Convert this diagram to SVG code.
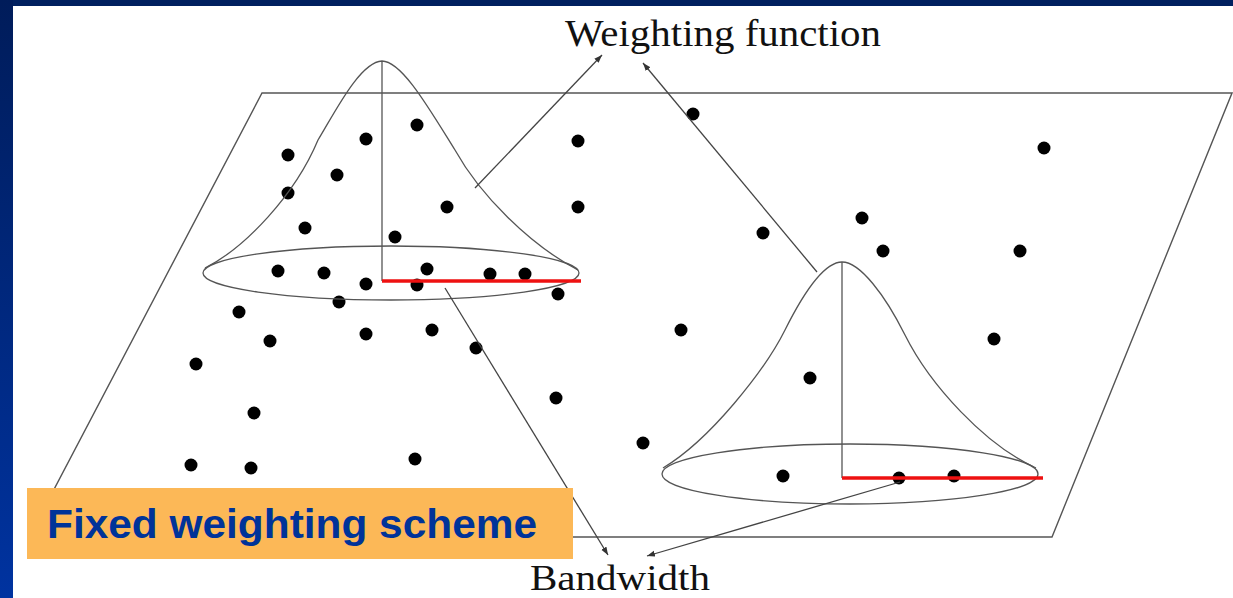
<svg xmlns="http://www.w3.org/2000/svg" width="1233" height="598" viewBox="0 0 1233 598">
<defs>
<linearGradient id="leftBand" x1="0" y1="0" x2="0" y2="1">
<stop offset="0" stop-color="#001c5a"/>
<stop offset="1" stop-color="#0033a0"/>
</linearGradient>
<marker id="arr" markerWidth="9" markerHeight="7" refX="8" refY="3" orient="auto" markerUnits="userSpaceOnUse">
<path d="M0,0 L8,3 L0,6 z" fill="#333"/>
</marker>
<style>
.ln{fill:none;stroke:#555;stroke-width:1.4}
.bell{fill:none;stroke:#555;stroke-width:1.3}
.red{stroke:#ee1111;stroke-width:3.5}
.con{fill:none;stroke:#444;stroke-width:1.3;marker-end:url(#arr)}
.dot{fill:#000}
.lbl{font-family:"Liberation Serif","Times New Roman",serif;fill:#111}
</style>
</defs>
<rect width="1233" height="598" fill="#ffffff"/>
<g id="frame">
<rect x="0" y="0" width="1233" height="6" fill="#00205f"/>
<rect x="0" y="0" width="13" height="598" fill="url(#leftBand)"/>
</g>
<g id="plane">
<path class="ln" d="M262,93 L1232,93 L1052,537 L29,537 Z"/>
</g>
<g id="points">
<circle class="dot" cx="288" cy="155" r="6.5"/>
<circle class="dot" cx="366" cy="139" r="6.5"/>
<circle class="dot" cx="417" cy="125" r="6.5"/>
<circle class="dot" cx="578" cy="141" r="6.5"/>
<circle class="dot" cx="693" cy="114" r="6.5"/>
<circle class="dot" cx="1044" cy="148" r="6.5"/>
<circle class="dot" cx="337" cy="175" r="6.5"/>
<circle class="dot" cx="288" cy="193" r="6.5"/>
<circle class="dot" cx="447" cy="207" r="6.5"/>
<circle class="dot" cx="578" cy="207" r="6.5"/>
<circle class="dot" cx="305" cy="228" r="6.5"/>
<circle class="dot" cx="395" cy="237" r="6.5"/>
<circle class="dot" cx="763" cy="233" r="6.5"/>
<circle class="dot" cx="862" cy="218" r="6.5"/>
<circle class="dot" cx="883" cy="251" r="6.5"/>
<circle class="dot" cx="1020" cy="251" r="6.5"/>
<circle class="dot" cx="278" cy="271" r="6.5"/>
<circle class="dot" cx="324" cy="273" r="6.5"/>
<circle class="dot" cx="366" cy="284" r="6.5"/>
<circle class="dot" cx="427" cy="269" r="6.5"/>
<circle class="dot" cx="417" cy="285" r="6.5"/>
<circle class="dot" cx="490" cy="274" r="6.5"/>
<circle class="dot" cx="525" cy="274" r="6.5"/>
<circle class="dot" cx="558" cy="294" r="6.5"/>
<circle class="dot" cx="339" cy="302" r="6.5"/>
<circle class="dot" cx="239" cy="312" r="6.5"/>
<circle class="dot" cx="270" cy="341" r="6.5"/>
<circle class="dot" cx="366" cy="334" r="6.5"/>
<circle class="dot" cx="432" cy="330" r="6.5"/>
<circle class="dot" cx="476" cy="348" r="6.5"/>
<circle class="dot" cx="681" cy="330" r="6.5"/>
<circle class="dot" cx="994" cy="339" r="6.5"/>
<circle class="dot" cx="196" cy="364" r="6.5"/>
<circle class="dot" cx="810" cy="378" r="6.5"/>
<circle class="dot" cx="254" cy="413" r="6.5"/>
<circle class="dot" cx="556" cy="398" r="6.5"/>
<circle class="dot" cx="643" cy="443" r="6.5"/>
<circle class="dot" cx="191" cy="465" r="6.5"/>
<circle class="dot" cx="251" cy="468" r="6.5"/>
<circle class="dot" cx="415" cy="459" r="6.5"/>
<circle class="dot" cx="783" cy="476" r="6.5"/>
<circle class="dot" cx="899" cy="478" r="6.5"/>
<circle class="dot" cx="954" cy="476" r="6.5"/>
</g>
<g id="kernel-left">
<ellipse class="bell" cx="391" cy="273" rx="188" ry="27"/>
<path class="bell" d="M205,268 C245,248 295,195 318,140 C335,112 360,62 382,61 C402,61 430,110 455,150 C480,195 530,245 578,270"/>
<line class="bell" x1="382" y1="61" x2="382" y2="281"/>
<line class="red" x1="382" y1="281" x2="581" y2="281"/>
</g>
<g id="kernel-right">
<ellipse class="bell" cx="850" cy="474" rx="188" ry="30"/>
<path class="bell" d="M663,468 C710,440 765,370 785,330 C805,290 825,262 842,262 C860,262 885,295 905,335 C930,385 985,445 1036,468"/>
<line class="bell" x1="842" y1="262" x2="842" y2="478"/>
<line class="red" x1="842" y1="478" x2="1043" y2="478"/>
</g>
<g id="connectors">
<line class="con" x1="475" y1="188" x2="602" y2="55"/>
<line class="con" x1="817" y1="272" x2="643" y2="63"/>
<line class="con" x1="445" y1="288" x2="608" y2="555"/>
<line class="con" x1="900" y1="482" x2="647" y2="556"/>
</g>
<g id="label-weighting">
<text class="lbl" x="565" y="46" font-size="37" textLength="316" lengthAdjust="spacingAndGlyphs">Weighting function</text>
</g>
<g id="label-bandwidth">
<text class="lbl" x="530" y="590" font-size="35" textLength="180" lengthAdjust="spacingAndGlyphs">Bandwidth</text>
</g>
<g id="title-box">
<rect x="27" y="488" width="546" height="71" fill="#fcb857"/>
<text x="47" y="538" font-family="'Liberation Sans',Arial,sans-serif" font-weight="bold" font-size="40" fill="#003399" textLength="490" lengthAdjust="spacingAndGlyphs">Fixed weighting scheme</text>
</g>
</svg>
